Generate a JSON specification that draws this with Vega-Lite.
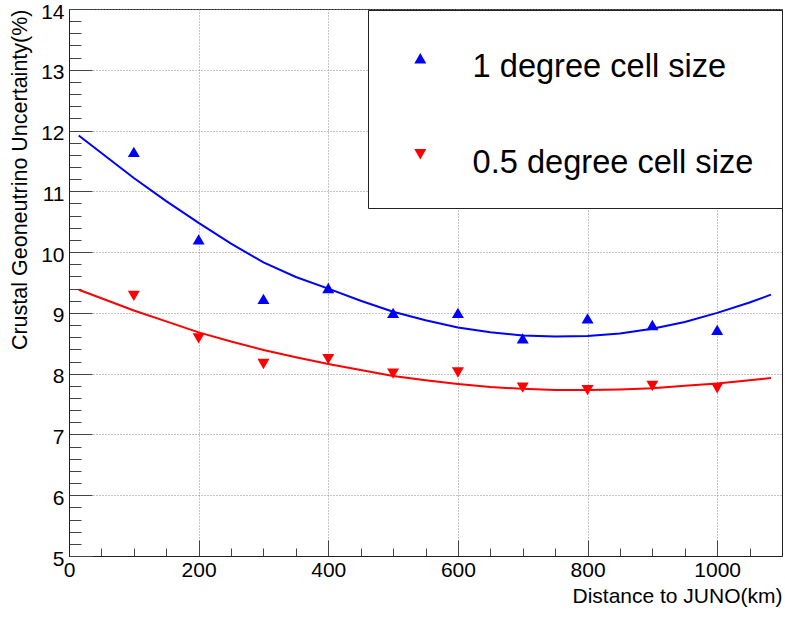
{
  "$schema": "https://vega.github.io/schema/vega-lite/v6.json",
  "width": 713,
  "height": 547,
  "autosize": {"type": "none"},
  "padding": {"left": 69, "top": 9, "right": 3, "bottom": 61},
  "background": "white",
  "config": {
    "font": "Liberation Sans",
    "view": {"stroke": "#222", "strokeWidth": 1}
  },
  "datasets": {
    "points": [
      {"x": 100, "y": 11.65, "series": "1 degree cell size"},
      {"x": 200, "y": 10.21, "series": "1 degree cell size"},
      {"x": 300, "y": 9.23, "series": "1 degree cell size"},
      {"x": 400, "y": 9.41, "series": "1 degree cell size"},
      {"x": 500, "y": 9.0, "series": "1 degree cell size"},
      {"x": 600, "y": 9.0, "series": "1 degree cell size"},
      {"x": 700, "y": 8.58, "series": "1 degree cell size"},
      {"x": 800, "y": 8.91, "series": "1 degree cell size"},
      {"x": 900, "y": 8.8, "series": "1 degree cell size"},
      {"x": 1000, "y": 8.72, "series": "1 degree cell size"},
      {"x": 100, "y": 9.28, "series": "0.5 degree cell size"},
      {"x": 200, "y": 8.58, "series": "0.5 degree cell size"},
      {"x": 300, "y": 8.16, "series": "0.5 degree cell size"},
      {"x": 400, "y": 8.24, "series": "0.5 degree cell size"},
      {"x": 500, "y": 8.0, "series": "0.5 degree cell size"},
      {"x": 600, "y": 8.02, "series": "0.5 degree cell size"},
      {"x": 700, "y": 7.77, "series": "0.5 degree cell size"},
      {"x": 800, "y": 7.73, "series": "0.5 degree cell size"},
      {"x": 900, "y": 7.8, "series": "0.5 degree cell size"},
      {"x": 1000, "y": 7.76, "series": "0.5 degree cell size"}
    ],
    "curves": [
      {"x": 15, "y": 11.92, "series": "1 degree cell size"},
      {"x": 50, "y": 11.63, "series": "1 degree cell size"},
      {"x": 100, "y": 11.22, "series": "1 degree cell size"},
      {"x": 150, "y": 10.84, "series": "1 degree cell size"},
      {"x": 200, "y": 10.48, "series": "1 degree cell size"},
      {"x": 250, "y": 10.14, "series": "1 degree cell size"},
      {"x": 300, "y": 9.83, "series": "1 degree cell size"},
      {"x": 350, "y": 9.59, "series": "1 degree cell size"},
      {"x": 400, "y": 9.4, "series": "1 degree cell size"},
      {"x": 450, "y": 9.2, "series": "1 degree cell size"},
      {"x": 500, "y": 9.02, "series": "1 degree cell size"},
      {"x": 550, "y": 8.88, "series": "1 degree cell size"},
      {"x": 600, "y": 8.76, "series": "1 degree cell size"},
      {"x": 650, "y": 8.68, "series": "1 degree cell size"},
      {"x": 700, "y": 8.63, "series": "1 degree cell size"},
      {"x": 750, "y": 8.61, "series": "1 degree cell size"},
      {"x": 800, "y": 8.62, "series": "1 degree cell size"},
      {"x": 850, "y": 8.66, "series": "1 degree cell size"},
      {"x": 900, "y": 8.74, "series": "1 degree cell size"},
      {"x": 950, "y": 8.85, "series": "1 degree cell size"},
      {"x": 1000, "y": 9.0, "series": "1 degree cell size"},
      {"x": 1050, "y": 9.17, "series": "1 degree cell size"},
      {"x": 1083, "y": 9.3, "series": "1 degree cell size"},
      {"x": 15, "y": 9.38, "series": "0.5 degree cell size"},
      {"x": 50, "y": 9.24, "series": "0.5 degree cell size"},
      {"x": 100, "y": 9.04, "series": "0.5 degree cell size"},
      {"x": 150, "y": 8.86, "series": "0.5 degree cell size"},
      {"x": 200, "y": 8.68, "series": "0.5 degree cell size"},
      {"x": 250, "y": 8.53, "series": "0.5 degree cell size"},
      {"x": 300, "y": 8.39, "series": "0.5 degree cell size"},
      {"x": 350, "y": 8.27, "series": "0.5 degree cell size"},
      {"x": 400, "y": 8.16, "series": "0.5 degree cell size"},
      {"x": 450, "y": 8.06, "series": "0.5 degree cell size"},
      {"x": 500, "y": 7.96, "series": "0.5 degree cell size"},
      {"x": 550, "y": 7.89, "series": "0.5 degree cell size"},
      {"x": 600, "y": 7.83, "series": "0.5 degree cell size"},
      {"x": 650, "y": 7.78, "series": "0.5 degree cell size"},
      {"x": 700, "y": 7.75, "series": "0.5 degree cell size"},
      {"x": 750, "y": 7.73, "series": "0.5 degree cell size"},
      {"x": 800, "y": 7.73, "series": "0.5 degree cell size"},
      {"x": 850, "y": 7.74, "series": "0.5 degree cell size"},
      {"x": 900, "y": 7.76, "series": "0.5 degree cell size"},
      {"x": 950, "y": 7.8, "series": "0.5 degree cell size"},
      {"x": 1000, "y": 7.84, "series": "0.5 degree cell size"},
      {"x": 1050, "y": 7.89, "series": "0.5 degree cell size"},
      {"x": 1083, "y": 7.93, "series": "0.5 degree cell size"}
    ]
  },
  "encoding": {
    "x": {
      "field": "x",
      "type": "quantitative",
      "scale": {"domain": [0, 1100], "nice": false, "zero": false},
      "axis": {
        "title": "Distance to JUNO(km)",
        "titleAnchor": "end",
        "titleFont": "Liberation Sans",
        "titleFontSize": 21,
        "titleFontWeight": "normal",
        "titleColor": "black",
        "titlePadding": -3,
        "values": [0, 50, 100, 150, 200, 250, 300, 350, 400, 450, 500, 550, 600, 650, 700, 750, 800, 850, 900, 950, 1000, 1050],
        "labelExpr": "datum.value % 200 === 0 ? format(datum.value, 'd') : ''",
        "labelFont": "Liberation Sans",
        "labelFontSize": 21,
        "labelColor": "black",
        "labelOverlap": false,
        "labelFlush": false,
        "labelPadding": 19,
        "tickSize": {"condition": {"test": "datum.value % 200 === 0", "value": -16}, "value": -8},
        "tickColor": "#444",
        "tickWidth": 1,
        "domainColor": "#222",
        "domainWidth": 1,
        "grid": true,
        "gridColor": "#888",
        "gridDash": [1, 2],
        "gridWidth": 1,
        "gridOpacity": {"condition": {"test": "datum.value % 200 === 0", "value": 1}, "value": 0}
      }
    },
    "y": {
      "field": "y",
      "type": "quantitative",
      "scale": {"domain": [5, 14], "nice": false, "zero": false},
      "axis": {
        "title": "Crustal Geoneutrino Uncertainty(%)",
        "titleAnchor": "end",
        "titleFont": "Liberation Sans",
        "titleFontSize": 21.5,
        "titleFontWeight": "normal",
        "titleColor": "black",
        "titlePadding": 9,
        "values": [5, 5.2, 5.4, 5.6, 5.8, 6, 6.2, 6.4, 6.6, 6.8, 7, 7.2, 7.4, 7.6, 7.8, 8, 8.2, 8.4, 8.6, 8.8, 9, 9.2, 9.4, 9.6, 9.8, 10, 10.2, 10.4, 10.6, 10.8, 11, 11.2, 11.4, 11.6, 11.8, 12, 12.2, 12.4, 12.6, 12.8, 13, 13.2, 13.4, 13.6, 13.8, 14],
        "labelExpr": "datum.value % 1 === 0 ? format(datum.value, 'd') : ''",
        "labelFont": "Liberation Sans",
        "labelFontSize": 21,
        "labelColor": "black",
        "labelOverlap": false,
        "labelFlush": false,
        "labelPadding": 28,
        "labelOffset": 3,
        "tickSize": {"condition": {"test": "datum.value % 1 === 0", "value": -23}, "value": -12},
        "tickColor": "#444",
        "tickWidth": 1,
        "domainColor": "#222",
        "domainWidth": 1,
        "grid": true,
        "gridColor": "#888",
        "gridDash": [1, 2],
        "gridWidth": 1,
        "gridOpacity": {"condition": {"test": "datum.value % 1 === 0", "value": 1}, "value": 0}
      }
    },
    "color": {
      "field": "series",
      "type": "nominal",
      "scale": {"domain": ["1 degree cell size", "0.5 degree cell size"], "range": ["#0000ff", "#ff0000"]},
      "legend": {
        "orient": "none",
        "legendX": 299,
        "legendY": 1,
        "title": " ",
        "titleFontSize": 1,
        "titlePadding": 3,
        "strokeColor": "#222",
        "fillColor": "white",
        "padding": 28,
        "rowPadding": 54,
        "symbolOffset": 8,
        "labelOffset": 36,
        "labelFont": "Liberation Sans",
        "labelFontSize": 32.6,
        "labelColor": "black",
        "labelLimit": 0,
        "symbolSize": 144,
        "symbolStrokeWidth": 0,
        "encode": {"labels": {"update": {"dy": {"value": 9}}}}
      }
    }
  },
  "layer": [
    {
      "data": {"name": "curves"},
      "mark": {"type": "line", "strokeWidth": 2, "clip": true}
    },
    {
      "data": {"name": "points"},
      "mark": {"type": "point", "filled": true, "size": 144, "opacity": 1},
      "encoding": {
        "shape": {
          "field": "series",
          "type": "nominal",
          "scale": {"domain": ["1 degree cell size", "0.5 degree cell size"], "range": ["triangle-up", "triangle-down"]},
          "legend": {
            "orient": "none",
            "legendX": 299,
            "legendY": 1,
            "title": " ",
            "titleFontSize": 1,
            "titlePadding": 3,
            "strokeColor": "#222",
            "fillColor": "white",
            "padding": 28,
            "rowPadding": 54,
            "symbolOffset": 8,
            "labelOffset": 36,
            "labelFont": "Liberation Sans",
            "labelFontSize": 32.6,
            "labelColor": "black",
            "labelLimit": 0,
            "symbolSize": 144,
            "symbolStrokeWidth": 0,
            "encode": {"labels": {"update": {"dy": {"value": 9}}}}
          }
        }
      }
    }
  ]
}
